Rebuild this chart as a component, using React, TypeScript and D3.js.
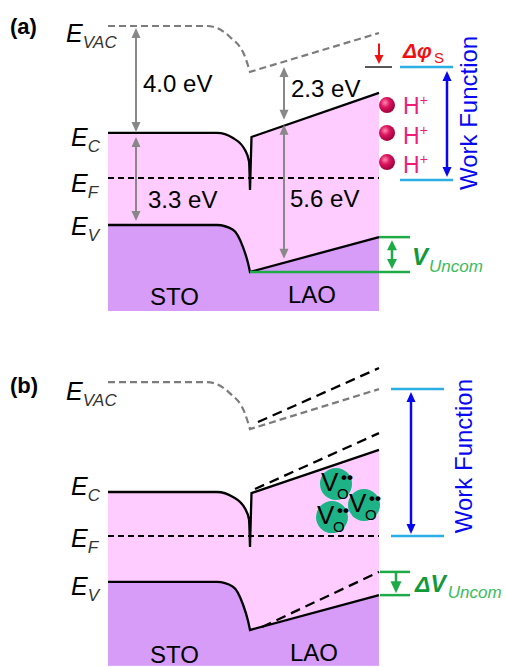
import React from "react";
import * as d3 from "d3";

const W = 505;
const H = 667;
const FONT = "'Liberation Sans', Arial, Helvetica, sans-serif";

// ---------------- data ----------------
// depth axis (arbitrary units): STO bulk edge, LAO surface; interface = 0
const DEPTH_EXTENT = [-142, 129];
const DEPTH_PIXELS = [108, 379];
const PX_PER_EV = 27;
const EF_PIXEL = [178, 536]; // Fermi level position of panel (a) and (b)

// STO band-bending profiles: depth and fraction of the total bending
const BEND_VAC_DEPTH = [-142, -43, -20, -5, 0];
const BEND_VAC_FRAC = [0, 0, 0.24, 0.67, 1];
const BEND_C_DEPTH = [-142, -33, -17, -5, -1, 0];
const BEND_C_FRAC = [0, 0, 0.09, 0.3, 0.5, 1];
const BEND_V_DEPTH = [-142, -33, -17, -7, -2, 0];
const BEND_V_FRAC = [0, 0, 0.1, 0.47, 0.81, 1];

// energies (eV, relative to E_F)
// vacuum: [STO bulk, interface, LAO surface]
const VAC_A = [5.63, 3.93, 5.37];
const VAC_B = [5.7, 3.96, 5.44];
// conduction: [STO bulk, notch, LAO interface, LAO surface]
const EC_A = [1.67, -0.44, 1.52, 3.15];
const EC_B = [1.63, -0.41, 1.59, 3.19];
// valence: [STO bulk, interface, LAO surface]
const EV_A = [-1.74, -3.48, -2.19];
const EV_B = [-1.7, -3.48, -2.19];
// dashed LAO bands in (b): [start depth, start energy, surface energy]
const VAC_B_NEW = [8, 4.22, 6.22];
const EC_B_NEW = [5, 1.74, 3.81];
const EV_B_NEW = [12, -3.37, -1.33];
const BOTTOM_E = [-4.93, -4.81];

const LEVEL_NAMES = ["VAC", "C", "F", "V"];
const LEVEL_LABEL_E_A = [5.04, 1.19, -0.52, -2.11];
const LEVEL_LABEL_E_B = [5.04, 1.52, -0.41, -2.19];

const GAP_LABELS = ["4.0 eV", "3.3 eV", "2.3 eV", "5.6 eV"];
const SHIFTED_VAC_A = 4.11;
const WORK_FUNCTION_A = [4.11, -0.07];
const WORK_FUNCTION_B = [5.44, 0];
const H_PLUS_E = [2.7, 1.67, 0.59];
const H_PLUS_TEXT_E = [2.37, 1.26, 0.19];
const VO_DEPTH = [86, 114, 82];
const VO_E = [1.93, 1.15, 0.7];
const UNCOM_A = [-2.19, -3.48];
const UNCOM_B = [-1.33, -2.19];

// ---------------- helpers ----------------
const xS = d3.scaleLinear().domain(DEPTH_EXTENT).range(DEPTH_PIXELS);
const yScaleFor = (ef: number) =>
  d3.scaleLinear().domain([0, 1]).range([ef, ef - PX_PER_EV]);

function bandPath(
  yS: (e: number) => number,
  depths: number[],
  fracs: number[],
  eBulk: number,
  eIF: number,
  tail: [number, number][]
) {
  const pts = depths.map(
    (d, i) => [xS(d), yS(eBulk + fracs[i] * (eIF - eBulk))] as [number, number]
  );
  const head = d3.line().curve(d3.curveMonotoneX)(pts) as string;
  return head + tail.map(([d, e]) => `L${xS(d)},${yS(e)}`).join("");
}

function lerp(a: number, b: number, t: number) {
  return a + (b - a) * t;
}

function VArrow({
  x,
  y1,
  y2,
  color,
  sw = 2,
  hl = 10,
  hw = 9,
  top = true,
  bottom = true,
}: {
  x: number;
  y1: number;
  y2: number;
  color: string;
  sw?: number;
  hl?: number;
  hw?: number;
  top?: boolean;
  bottom?: boolean;
}) {
  const ya = top ? y1 + hl - 1 : y1;
  const yb = bottom ? y2 - hl + 1 : y2;
  return (
    <g>
      <line x1={x} x2={x} y1={ya} y2={yb} stroke={color} strokeWidth={sw} />
      {top && (
        <polygon
          points={`${x},${y1} ${x - hw / 2},${y1 + hl} ${x + hw / 2},${y1 + hl}`}
          fill={color}
        />
      )}
      {bottom && (
        <polygon
          points={`${x},${y2} ${x - hw / 2},${y2 - hl} ${x + hw / 2},${y2 - hl}`}
          fill={color}
        />
      )}
    </g>
  );
}

function LevelLabels({ yS, energies }: { yS: (e: number) => number; energies: number[] }) {
  return (
    <g fontFamily={FONT} fontStyle="italic">
      {LEVEL_NAMES.map((n, i) => (
        <text key={n} x={i === 0 ? 66 : 71} y={yS(energies[i])} fontSize={25} fill="#000">
          E
          <tspan fontSize={17} dy={6} fill="#333">
            {n}
          </tspan>
        </text>
      ))}
    </g>
  );
}

const PINK = "#ffccff";
const PURPLE = "#d69cf8";
const GRAY = "#888888";
const DASH_GRAY = "#7c7c7c";
const CYAN = "#2aaee4";
const BLUE = "#0808f0";
const GREEN = "#1faa48";
const GREEN_DARK = "#129a3a";
const GREEN_LIGHT = "#3cbc5c";

function Bands({
  yS,
  vac,
  ec,
  ev,
  bottomE,
}: {
  yS: (e: number) => number;
  vac: number[];
  ec: number[];
  ev: number[];
  bottomE: number;
}) {
  const right = DEPTH_EXTENT[1];
  const left = DEPTH_EXTENT[0];
  const ecPath = bandPath(yS, BEND_C_DEPTH, BEND_C_FRAC, ec[0], ec[1], [
    [1.5, ec[2]],
    [right, ec[3]],
  ]);
  const evPath = bandPath(yS, BEND_V_DEPTH, BEND_V_FRAC, ev[0], ev[1], [[right, ev[2]]]);
  const vacPath = bandPath(yS, BEND_VAC_DEPTH, BEND_VAC_FRAC, vac[0], vac[1], [[right, vac[2]]]);
  const close = `L${xS(right)},${yS(bottomE)}L${xS(left)},${yS(bottomE)}Z`;
  return (
    <g>
      <path d={ecPath + close} fill={PINK} />
      <path d={evPath + close} fill={PURPLE} />
      <line
        x1={xS(left)}
        x2={xS(right)}
        y1={yS(0)}
        y2={yS(0)}
        stroke="#000"
        strokeWidth={2}
        strokeDasharray="6 4"
      />
      <path d={vacPath} fill="none" stroke={DASH_GRAY} strokeWidth={2.2} strokeDasharray="7 4" />
      <path d={ecPath} fill="none" stroke="#000" strokeWidth={2.3} strokeLinejoin="miter" />
      <path d={evPath} fill="none" stroke="#000" strokeWidth={2.3} />
    </g>
  );
}

function PanelA() {
  const yS = yScaleFor(EF_PIXEL[0]);
  const ecAt = (d: number) => lerp(EC_A[2], EC_A[3], (d - 1.5) / (DEPTH_EXTENT[1] - 1.5));
  const evAt = (d: number) => lerp(EV_A[1], EV_A[2], d / DEPTH_EXTENT[1]);
  const dSTO = -114;
  const dLAO = 34;
  return (
    <g>
      <Bands yS={yS} vac={VAC_A} ec={EC_A} ev={EV_A} bottomE={BOTTOM_E[0]} />
      <text x={10} y={34} fontFamily={FONT} fontSize={22} fontWeight="bold">
        (a)
      </text>
      <LevelLabels yS={yS} energies={LEVEL_LABEL_E_A} />
      {/* gap arrows */}
      <VArrow x={xS(dSTO)} y1={yS(VAC_A[0]) + 2} y2={yS(EC_A[0]) - 1} color={GRAY} />
      <VArrow x={xS(dSTO)} y1={yS(EC_A[0]) + 4} y2={yS(EV_A[0]) - 4} color={GRAY} />
      <VArrow x={xS(dLAO)} y1={yS(SHIFTED_VAC_A)} y2={yS(ecAt(dLAO)) - 6} color={GRAY} />
      <VArrow x={xS(dLAO)} y1={yS(ecAt(dLAO)) - 1} y2={yS(evAt(dLAO)) - 4} color={GRAY} />
      <g fontFamily={FONT} fontSize={24} fill="#000">
        <text x={xS(-107)} y={yS(3.19)}>{GAP_LABELS[0]}</text>
        <text x={xS(-102)} y={yS(-1.11)}>{GAP_LABELS[1]}</text>
        <text x={xS(41)} y={yS(3.0)}>{GAP_LABELS[2]}</text>
        <text x={xS(40)} y={yS(-1.07)}>{GAP_LABELS[3]}</text>
        <text x={xS(-100)} y={yS(-4.7)}>STO</text>
        <text x={xS(38)} y={yS(-4.63)}>LAO</text>
      </g>
      {/* surface dipole shift */}
      <line
        x1={xS(115)}
        x2={xS(142)}
        y1={yS(SHIFTED_VAC_A)}
        y2={yS(SHIFTED_VAC_A)}
        stroke="#555"
        strokeWidth={2}
      />
      <VArrow
        x={xS(129)}
        y1={yS(4.98)}
        y2={yS(4.22)}
        color="#ee1111"
        sw={2}
        hl={9}
        hw={9}
        top={false}
      />
      <text x={xS(153)} y={yS(4.44)} fontFamily={FONT} fill="#ee1111">
        <tspan fontSize={21} fontWeight="bold" fontStyle="italic">
          Δφ
        </tspan>
        <tspan fontSize={15} dy={5} dx={2}>
          S
        </tspan>
      </text>
      {/* work function */}
      {WORK_FUNCTION_A.map((e, i) => (
        <line
          key={i}
          x1={xS(150)}
          x2={xS(203)}
          y1={yS(e)}
          y2={yS(e)}
          stroke={CYAN}
          strokeWidth={2.5}
        />
      ))}
      <VArrow
        x={xS(197)}
        y1={yS(WORK_FUNCTION_A[0]) + 4}
        y2={yS(WORK_FUNCTION_A[1]) - 3}
        color={BLUE}
        sw={2.5}
        hl={10}
        hw={9}
      />
      <text
        transform={`translate(${xS(227)},${yS(2.41)}) rotate(-90)`}
        textAnchor="middle"
        fontFamily={FONT}
        fontSize={24}
        fill={BLUE}
      >
        Work Function
      </text>
      {/* H+ */}
      {H_PLUS_E.map((e, i) => (
        <g key={i}>
          <circle cx={xS(137)} cy={yS(e)} r={8} fill="url(#hball)" />
          <text x={xS(153)} y={yS(H_PLUS_TEXT_E[i])} fontFamily={FONT} fontSize={23} fill="#ec1e79">
            H
            <tspan fontSize={14} dy={-9}>
              +
            </tspan>
          </text>
        </g>
      ))}
      {/* V uncompensated */}
      <line x1={xS(0)} x2={xS(160)} y1={yS(UNCOM_A[1])} y2={yS(UNCOM_A[1])} stroke={GREEN} strokeWidth={2.5} />
      <line x1={xS(129)} x2={xS(160)} y1={yS(UNCOM_A[0])} y2={yS(UNCOM_A[0])} stroke={GREEN} strokeWidth={2.5} />
      <VArrow
        x={xS(142)}
        y1={yS(UNCOM_A[0]) + 3}
        y2={yS(UNCOM_A[1]) - 3}
        color={GREEN}
        sw={2.5}
        hl={10}
        hw={10}
      />
      <text x={xS(162)} y={yS(-3.22)} fontFamily={FONT}>
        <tspan fontSize={24} fontWeight="bold" fontStyle="italic" fill={GREEN_DARK}>
          V
        </tspan>
        <tspan fontSize={17} fontStyle="italic" fill={GREEN_LIGHT} dy={7} dx={1}>
          Uncom
        </tspan>
      </text>
    </g>
  );
}

function PanelB() {
  const yS = yScaleFor(EF_PIXEL[1]);
  const right = DEPTH_EXTENT[1];
  const dashed = (arr: number[]) =>
    `M${xS(arr[0])},${yS(arr[1])}L${xS(right)},${yS(arr[2])}`;
  return (
    <g>
      <Bands yS={yS} vac={VAC_B} ec={EC_B} ev={EV_B} bottomE={BOTTOM_E[1]} />
      <text x={10} y={393} fontFamily={FONT} fontSize={22} fontWeight="bold">
        (b)
      </text>
      <LevelLabels yS={yS} energies={LEVEL_LABEL_E_B} />
      {[VAC_B_NEW, EC_B_NEW, EV_B_NEW].map((a, i) => (
        <path
          key={i}
          d={dashed(a)}
          fill="none"
          stroke="#000"
          strokeWidth={2.3}
          strokeDasharray="10 6"
        />
      ))}
      <g fontFamily={FONT} fontSize={24} fill="#000">
        <text x={xS(-100)} y={yS(-4.7)}>STO</text>
        <text x={xS(40)} y={yS(-4.63)}>LAO</text>
      </g>
      {/* oxygen vacancies */}
      {VO_DEPTH.map((d, i) => {
        const cx = xS(d);
        const cy = yS(VO_E[i]);
        return (
          <g key={i} fontFamily={FONT} fill="#000">
            <circle cx={cx} cy={cy} r={16} fill="#1db386" />
            <text x={cx - 15} y={cy + 7} fontSize={26}>
              V
            </text>
            <text x={cx + 1} y={cy + 15} fontSize={15}>
              O
            </text>
            <text x={cx + 5} y={cy - 1} fontSize={17} fontWeight="bold">
              ••
            </text>
          </g>
        );
      })}
      {/* work function */}
      {WORK_FUNCTION_B.map((e, i) => (
        <line
          key={i}
          x1={xS(141)}
          x2={xS(194)}
          y1={yS(e)}
          y2={yS(e)}
          stroke={CYAN}
          strokeWidth={2.5}
        />
      ))}
      <VArrow
        x={xS(161)}
        y1={yS(WORK_FUNCTION_B[0]) + 3}
        y2={yS(WORK_FUNCTION_B[1]) - 2}
        color={BLUE}
        sw={2.5}
        hl={10}
        hw={9}
      />
      <text
        transform={`translate(${xS(222)},${yS(2.96)}) rotate(-90)`}
        textAnchor="middle"
        fontFamily={FONT}
        fontSize={24}
        fill={BLUE}
      >
        Work Function
      </text>
      {/* delta V uncompensated */}
      {UNCOM_B.map((e, i) => (
        <line
          key={i}
          x1={xS(130)}
          x2={xS(160)}
          y1={yS(e)}
          y2={yS(e)}
          stroke={GREEN}
          strokeWidth={2.5}
        />
      ))}
      <VArrow
        x={xS(146)}
        y1={yS(UNCOM_B[0])}
        y2={yS(UNCOM_B[1]) - 2}
        color={GREEN}
        sw={2.5}
        hl={12}
        hw={11}
        top={false}
      />
      <text x={xS(165)} y={yS(-2.07)} fontFamily={FONT}>
        <tspan fontSize={23} fontWeight="bold" fontStyle="italic" fill={GREEN_DARK}>
          ΔV
        </tspan>
        <tspan fontSize={17} fontStyle="italic" fill={GREEN_LIGHT} dy={6} dx={2}>
          Uncom
        </tspan>
      </text>
    </g>
  );
}

export default function App() {
  return (
    <svg
      width={W}
      height={H}
      viewBox={`0 0 ${W} ${H}`}
      style={{ position: "absolute", left: 0, top: 0, background: "#fff" }}
    >
      <defs>
        <radialGradient id="hball" cx="38%" cy="35%" r="65%">
          <stop offset="0%" stopColor="#ff8ab0" />
          <stop offset="45%" stopColor="#dc1560" />
          <stop offset="100%" stopColor="#a0003c" />
        </radialGradient>
      </defs>
      <rect width={W} height={H} fill="#fff" />
      <PanelA />
      <PanelB />
    </svg>
  );
}
